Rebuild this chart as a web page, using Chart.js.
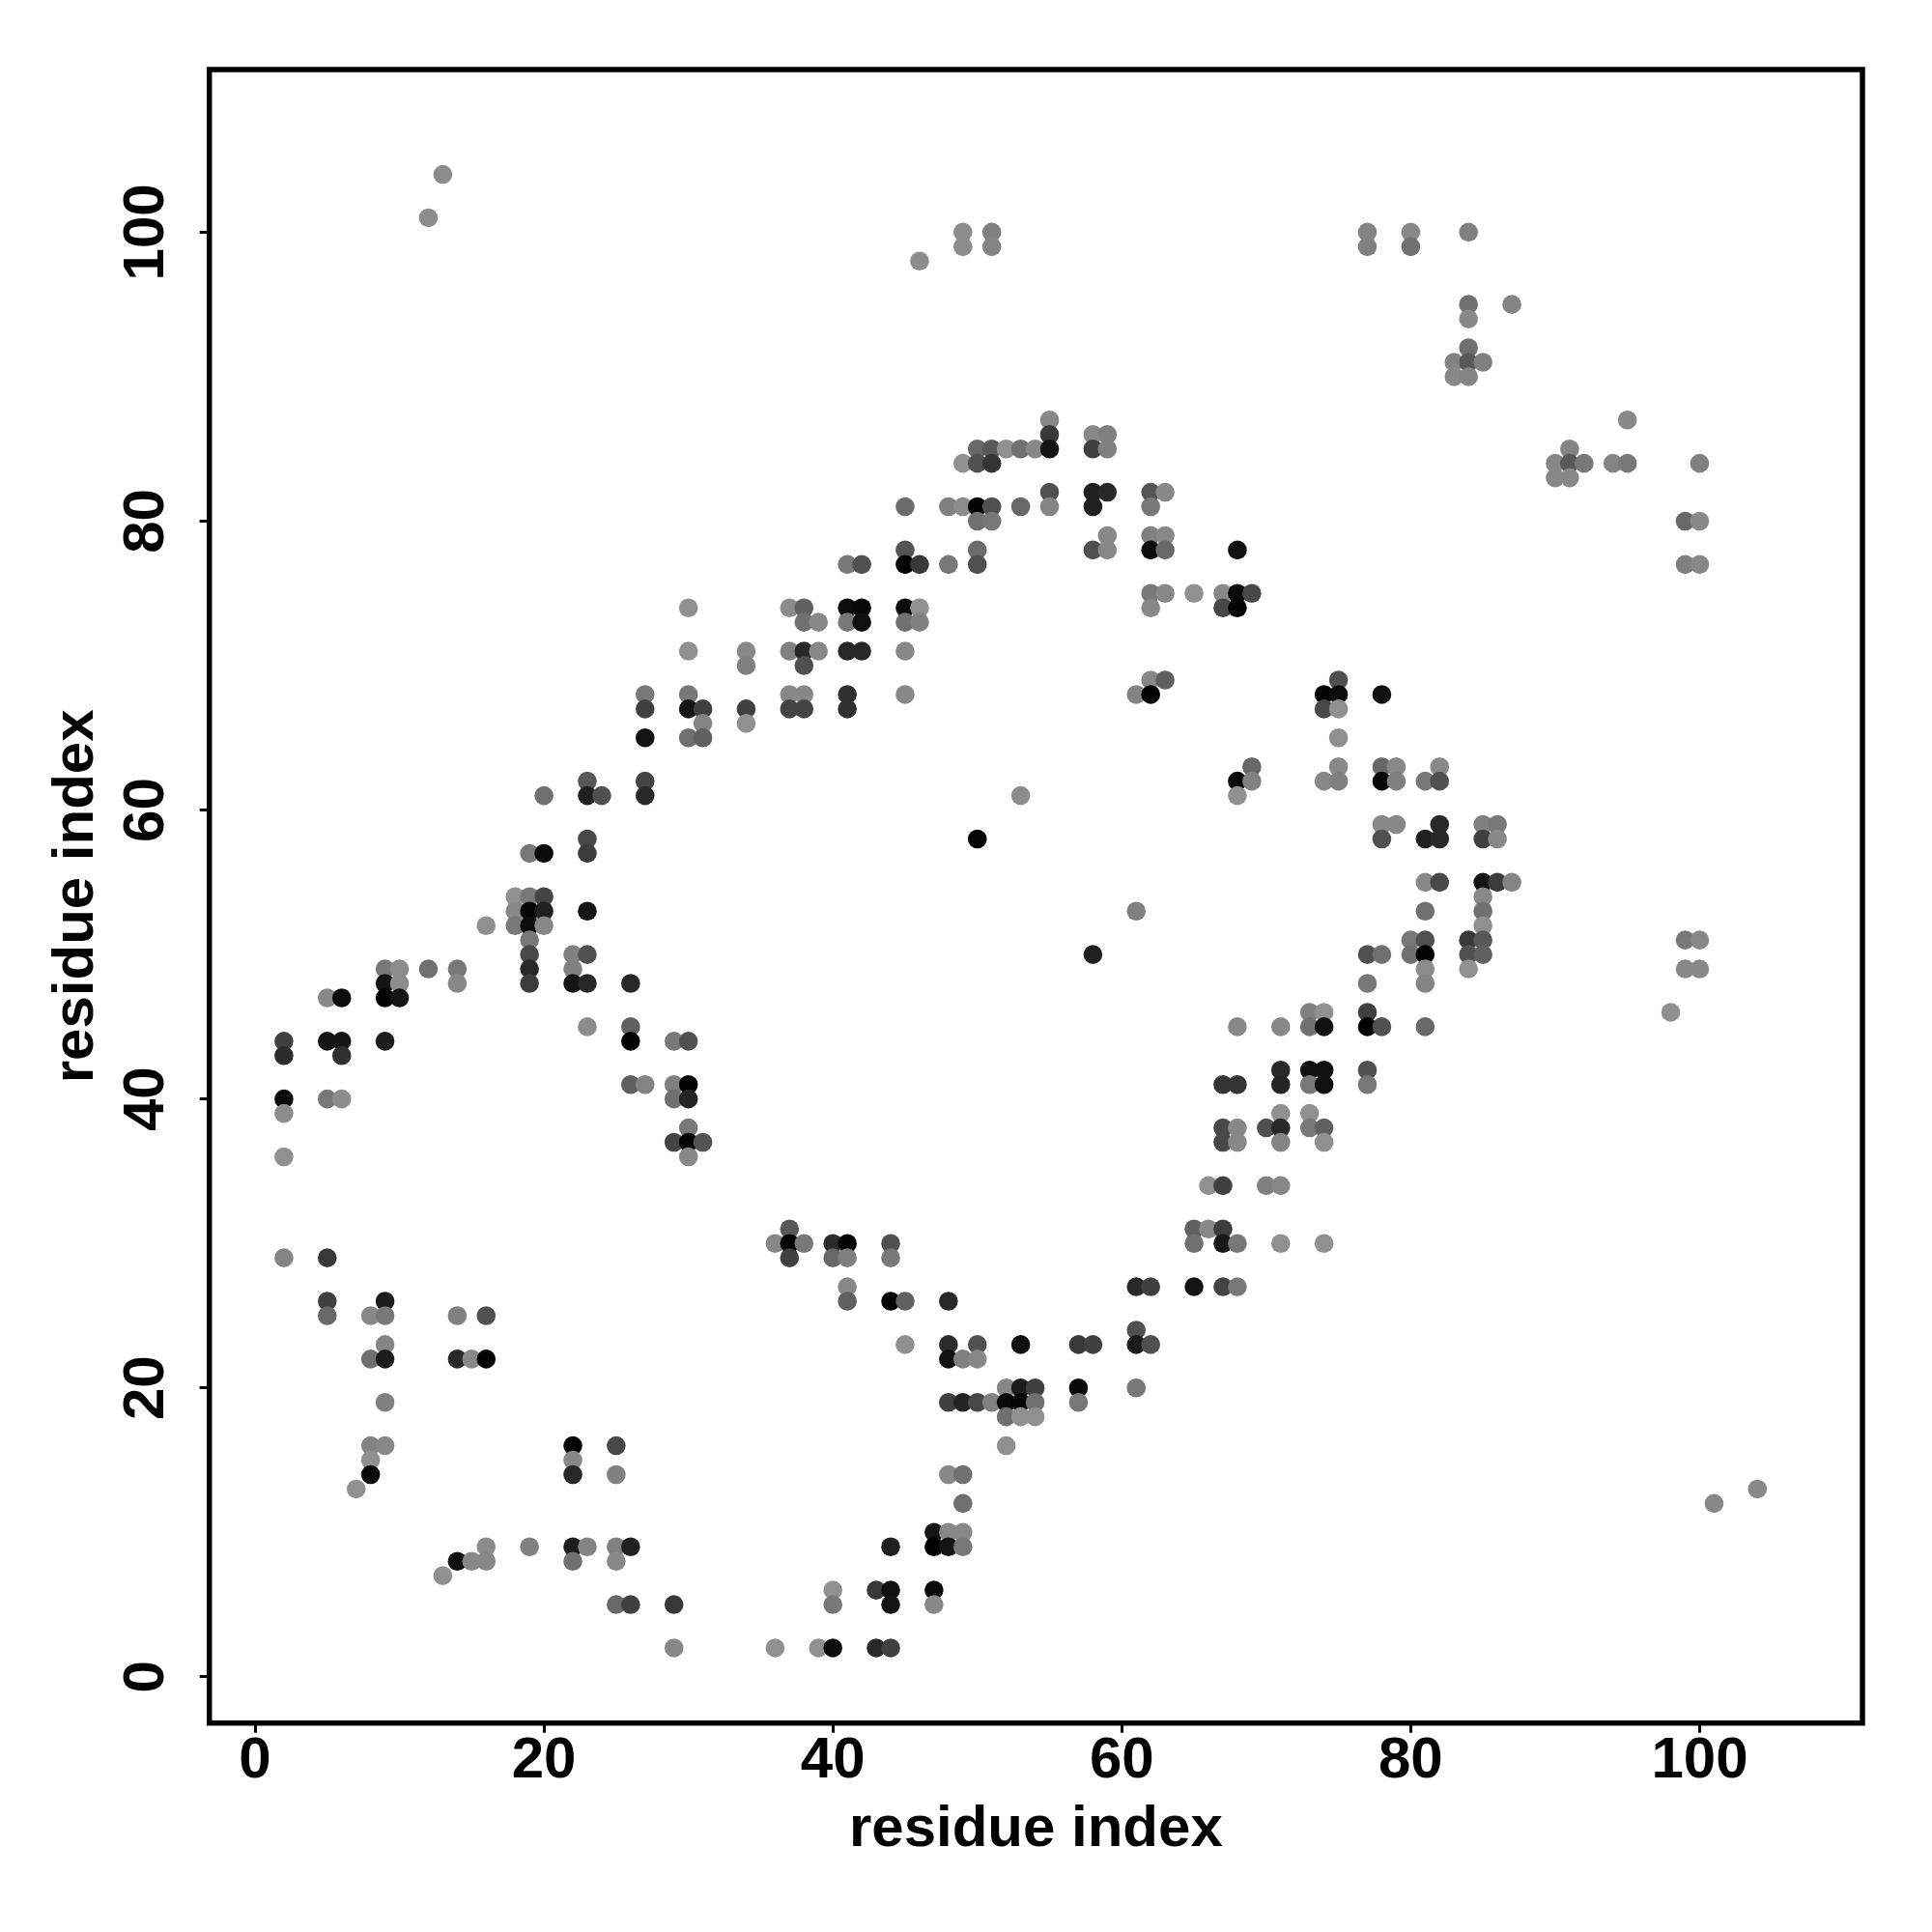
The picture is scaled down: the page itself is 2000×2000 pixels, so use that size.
<!DOCTYPE html>
<html>
<head>
<meta charset="utf-8">
<style>html,body{margin:0;padding:0;background:#fff}canvas{display:block}</style>
<script src="https://cdn.jsdelivr.net/npm/chart.js@4"></script>
</head>
<body>
<div style="position:relative;width:2000px;height:2000px"><canvas id="c" width="2000" height="2000"></canvas></div>
<script>
const tickValues = [0, 20, 40, 60, 80, 100];
const axisTitle = "residue index";
const rowIndex = [104,101,100,99,98,95,94,92,91,90,87,86,85,84,83,82,81,80,79,78,77,75,74,73,71,70,69,68,67,66,65,63,62,61,59,58,57,55,54,53,52,51,50,49,48,47,46,45,44,43,42,41,40,39,38,37,36,34,31,30,29,27,26,25,24,23,22,20,19,18,16,15,14,13,12,10,9,8,7,6,5,2];
const rowResidues = [
[13],[12],[49,51,77,80,84],[49,51,77,80],[46],[84,87],[84],[84],[83,84,85],[83,84],[55,95],[55,58,59],
[50,51,52,53,54,55,58,59,91],[49,50,51,90,91,92,94,95,100],[90,91],[55,58,59,62,63],[45,48,49,50,51,53,55,58,62],[50,51,99,100],[59,62,63],
[45,50,58,59,62,63,68],[41,42,45,46,48,50,99,100],[62,63,65,67,68,69],[30,37,38,41,42,45,46,62,67,68],[38,39,41,42,45,46],[30,34,37,38,39,41,42,45],[34,38],[62,63,75],
[27,30,37,38,41,45,61,62,74,75,78],[27,30,31,34,37,38,41,74,75],[31,34],[27,30,31,75],[69,75,78,79,82],[23,27,68,69,74,75,78,79,81,82],[20,23,24,27,53,68],
[78,79,82,85,86],[23,50,78,81,82,85,86],[19,20,23],[81,82,85,86,87],[18,19,20,85],[18,19,20,23,61,81,85],[16,18,19,20,85],[19,80,81,84,85,99,100],
[19,22,23,58,77,78,80,81,84,85],[9,10,12,14,19,22,81,84,99,100],[9,10,14,19,22,23,26,77,81],[5,6,9,10],[73,74,77,98],[23,26,68,71,73,74,77,78,81],
[2,5,6,9,26,29,30],[2,6],[71,73,74,77],[26,27,29,30,67,68,71,73,74,77],[2,5,6,29,30],[2,71,73],[30,67,68,70,71,73,74],[29,30,31,67,68,71,74],[2,30],[66,67,70,71],
[37,65,66,67],[36,37,38,40,41,44,65,67,68,71,74],[2,5,37,40,41,44],[41,61,62,65,67,68],[5,9,41,44,45,48],[5,8,9,14,16],[61],[9,45,48,50,53,57,58,61,62],
[8,9,14,15,16,48,49,50],[52,53,54,57,61],[9,48,49,50,51,52,53,54,57],[52,53,54],[8,9,22,25,52],[8,22],[8,22,25,48,49],[7,104],[49,101],[47,48,49],
[16,19,22,23,25,26,44,47,48,49],[14,15,16,22,25],[13],[40,43,44,47],[25,26,29,40,44,47],[29,36,39,40,43,44]
];
const rowShades = [
[0x8c],[0x8c],[0x8c,0x80,0x84,0x88,0x80],[0x8c,0x84,0x80,0x70],[0x8c],[0x70,0x84],[0x88],[0x70],[0x84,0x58,0x80],[0x88,0x84],[0x88,0x88],[0x38,0x88,0x80],
[0x68,0x58,0x90,0x70,0x88,0x14,0x40,0x80,0x84],[0x90,0x50,0x34,0x88,0x58,0x78,0x84,0x78,0x80],[0x88,0x88],[0x50,0x20,0x28,0x55,0x88],[0x6c,0x80,0x8c,0x02,0x50,0x68,0x84,0x20,0x78],[0x70,0x78,0x68,0x88],[0x88,0x80,0x88],
[0x54,0x6c,0x50,0x88,0x0c,0x68,0x10],[0x78,0x50,0x02,0x38,0x78,0x50,0x80,0x88],[0x78,0x88,0x90,0x88,0x0c,0x48],[0x90,0x8c,0x60,0x0c,0x08,0x0c,0x90,0x88,0x48,0x04],[0x70,0x88,0x78,0x10,0x70,0x80],[0x90,0x88,0x80,0x28,0x88,0x28,0x28,0x88],[0x80,0x50],[0x88,0x60,0x50],
[0x78,0x78,0x88,0x88,0x30,0x88,0x84,0x02,0x04,0x0c,0x10],[0x40,0x14,0x40,0x40,0x44,0x44,0x30,0x48,0x90],[0x84,0x90],[0x14,0x70,0x60,0x90],[0x68,0x88,0x68,0x88,0x88],[0x58,0x44,0x06,0x80,0x88,0x80,0x08,0x80,0x78,0x50],[0x70,0x20,0x50,0x28,0x8c,0x90],
[0x88,0x88,0x28,0x80,0x78],[0x48,0x06,0x50,0x20,0x28,0x40,0x88],[0x78,0x0a,0x3c],[0x88,0x48,0x14,0x3c,0x84],[0x90,0x78,0x44,0x88],[0x88,0x05,0x20,0x15,0x80,0x70,0x70],[0x90,0x78,0x0c,0x88,0x90],[0x78,0x78,0x50,0x38,0x58,0x78,0x88],
[0x48,0x80,0x50,0x20,0x50,0x70,0x70,0x04,0x50,0x60],[0x78,0x8c,0x70,0x78,0x28,0x80,0x8c,0x90,0x88,0x88],[0x14,0x8c,0x88,0x3c,0x14,0x28,0x28,0x78,0x84],[0x88,0x0c,0x04,0x14],[0x80,0x90,0x40,0x90],[0x8c,0x60,0x88,0x88,0x70,0x10,0x02,0x50,0x68],
[0x40,0x14,0x14,0x1c,0x02,0x78,0x50],[0x2c,0x30],[0x28,0x10,0x10,0x50],[0x60,0x84,0x80,0x02,0x34,0x34,0x24,0x78,0x10,0x78],[0x0a,0x78,0x8c,0x70,0x24],[0x8c,0x90,0x90],[0x78,0x48,0x88,0x50,0x28,0x78,0x60],[0x44,0x02,0x54,0x48,0x88,0x84,0x90],[0x90,0x88],[0x90,0x40,0x80,0x88],
[0x58,0x60,0x88,0x3c],[0x88,0x02,0x78,0x2c,0x02,0x50,0x70,0x18,0x78,0x90,0x90],[0x84,0x38,0x40,0x68,0x80,0x78],[0x88,0x28,0x40,0x14,0x44,0x78],[0x40,0x1c,0x60,0x02,0x60,0x28],[0x68,0x88,0x78,0x80,0x50],[0x50],[0x84,0x90,0x2c,0x50,0x10,0x38,0x40,0x1c,0x50],
[0x70,0x1c,0x28,0x88,0x02,0x10,0x80,0x88],[0x88,0x1c,0x40,0x08,0x78],[0x80,0x40,0x24,0x48,0x80,0x0a,0x06,0x70,0x78],[0x70,0x90,0x90],[0x84,0x88,0x02,0x48,0x90],[0x90,0x88],[0x08,0x28,0x80,0x88,0x70],[0x90,0x88],[0x70,0x88],[0x14,0x88,0x88],
[0x8c,0x80,0x1c,0x84,0x80,0x20,0x20,0x02,0x14,0x78],[0x10,0x88,0x88,0x70,0x88],[0x90],[0x90,0x38,0x10,0x0a],[0x68,0x40,0x38,0x78,0x14,0x88],[0x88,0x90,0x90,0x0c,0x28,0x40]
];

const contacts = [];
rowIndex.forEach((y, r) => rowResidues[r].forEach((x, c) => contacts.push({x, y, s: rowShades[r][c]})));
contacts.sort((a, b) => a.x - b.x);

const font = {family: "'Liberation Sans', Arial, sans-serif", weight: "bold", size: 60};
const fixedTicks = axis => { axis.ticks = tickValues.map(value => ({value})); };

const frame = {
  id: "frame",
  afterDatasetsDraw(chart) {
    const {ctx, chartArea: a} = chart;
    ctx.save();
    ctx.strokeStyle = "#000";
    ctx.lineWidth = 5.5;
    ctx.strokeRect(a.left, a.top, a.right - a.left, a.bottom - a.top);
    ctx.restore();
  }
};

new Chart(document.getElementById("c"), {
  type: "scatter",
  data: {datasets: [{
    data: contacts,
    pointRadius: 9.8,
    pointHoverRadius: 9.8,
    pointBorderWidth: 0,
    pointBackgroundColor: contacts.map(p => `rgb(${p.s},${p.s},${p.s})`)
  }]},
  plugins: [frame],
  options: {
    responsive: false,
    animation: false,
    clip: false,
    events: [],
    layout: {autoPadding: false, padding: {top: 72, right: 72, left: 0, bottom: 0}},
    plugins: {legend: {display: false}, tooltip: {enabled: false}, title: {display: false}},
    scales: {
      x: {
        type: "linear", min: -3.163, max: 111.27,
        afterBuildTicks: fixedTicks,
        afterFit: axis => { axis.height = 216.3; },
        border: {display: false},
        grid: {drawOnChartArea: false, drawTicks: true, tickLength: 10, tickWidth: 3, tickColor: "#000"},
        ticks: {color: "#000", font, padding: -6, maxRotation: 0, minRotation: 0, autoSkip: false},
        title: {display: true, text: axisTitle, color: "#000", font, padding: {top: 0, bottom: 70}}
      },
      y: {
        type: "linear", min: -3.2, max: 111.26,
        afterBuildTicks: fixedTicks,
        afterFit: axis => { axis.width = 216.7; },
        border: {display: false},
        grid: {drawOnChartArea: false, drawTicks: true, tickLength: 10, tickWidth: 3, tickColor: "#000"},
        ticks: {color: "#000", font, padding: 4, minRotation: 90, maxRotation: 90, crossAlign: "center", autoSkip: false},
        title: {display: true, text: axisTitle, color: "#000", font, padding: {top: 43, bottom: 0}}
      }
    }
  }
});
</script>
</body>
</html>
